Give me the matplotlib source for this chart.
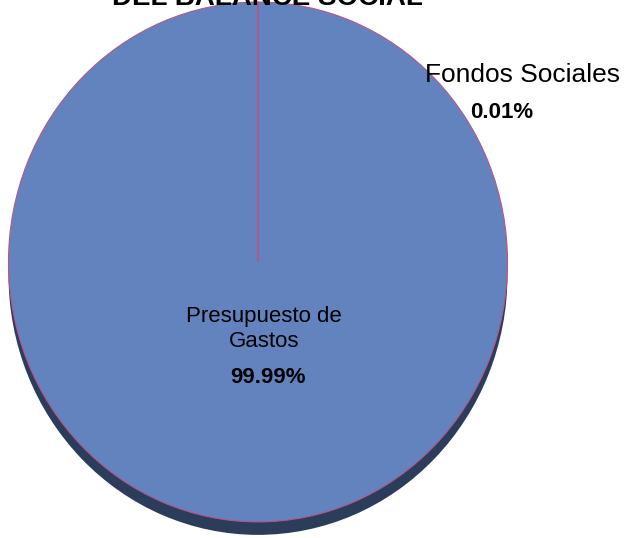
import matplotlib
matplotlib.use("Agg")
import matplotlib.pyplot as plt

plt.rcParams['font.family'] = ['Liberation Sans', 'DejaVu Sans']

# Datos
categorias = ["Fondos Sociales", "Presupuesto de\nGastos"]
valores = [0.01, 99.99]
porcentajes = ["0.01%", "99.99%"]
titulo = "DEL BALANCE SOCIAL"

fig = plt.figure(figsize=(6.3, 5.38), dpi=100)
ax = fig.add_axes([0, 0, 1, 1])

# Sombra (profundidad 3D) debajo del pastel
ax.pie(valores, startangle=90, counterclock=False, radius=1.0, center=(0, -0.05),
       colors=["#2c3d5c", "#2c3d5c"], wedgeprops=dict(linewidth=0))

# Cara superior del pastel
ax.pie(valores, startangle=90, counterclock=False, radius=1.0, center=(0, 0),
       colors=["#6283be", "#6283be"],
       wedgeprops=dict(edgecolor="#b5568a", linewidth=0.8))

ax.set_aspect('auto')
ax.set_xlim(-1.034, 1.491)
ax.set_ylim(-1.062, 1.008)
ax.axis('off')

# Etiquetas
ax.text(1.062, 0.719, categorias[0], ha='center', va='center', fontsize=19, color='black')
ax.text(0.978, 0.577, porcentajes[0], ha='center', va='center', fontsize=16,
        fontweight='bold', color='black')
ax.text(0.024, -0.258, categorias[1], ha='center', va='center', fontsize=16,
        color='black', linespacing=1.2)
ax.text(0.04, -0.446, porcentajes[1], ha='center', va='center', fontsize=16,
        fontweight='bold', color='black')

# Título (cortado en el borde superior)
fig.text(0.424, 1 - 5 / 538, titulo, ha='center', va='baseline', fontsize=20,
         fontweight='bold', color='black')

fig.savefig("out.png", dpi=100)
